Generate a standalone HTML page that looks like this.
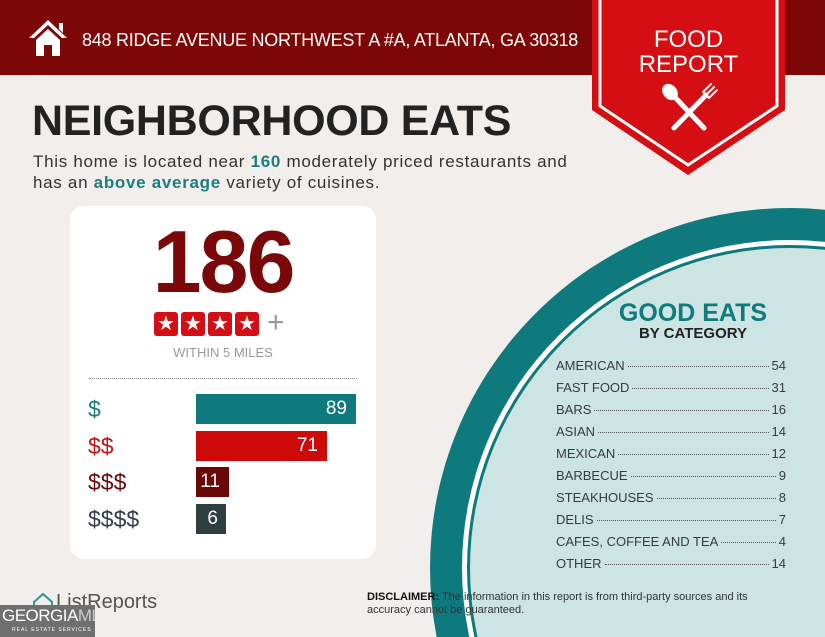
<!DOCTYPE html>
<html><head><meta charset="utf-8"><style>
html,body{margin:0;width:825px;height:637px;overflow:hidden}
body{background:#f1eeeb;font-family:"Liberation Sans",sans-serif;position:relative}
.a{position:absolute}
.row{position:absolute;left:556px;width:230px;font-size:13px;color:#3a3a3a;display:flex;align-items:baseline}
.row .d{flex:1;border-bottom:1px dotted #555;margin:0 3px;height:1px;transform:translateY(-3px)}
.bar{position:absolute;left:196px;height:30px;color:#fff;font-size:19px;text-align:right;line-height:30px;box-sizing:border-box;padding-right:9px}
.lab{position:absolute;left:88px;font-size:23px;line-height:30px}
</style></head><body>
<div class="a" style="left:0;top:0;width:825px;height:75px;background:#7d0707"></div>
<svg class="a" style="left:28px;top:18px" width="40" height="40" viewBox="0 0 40 40"><path d="M20 2 L1 20 L6 20 L20 7 L34 20 L39 20 Z M31 5 h4 v10 l-4 -4Z M8 22 L20 11 L32 22 V38 H24 V27 H16 V38 H8 Z" fill="#fff"/></svg>
<div class="a" style="left:82px;top:30px;color:#fff;font-size:18px;letter-spacing:-0.25px">848 RIDGE AVENUE NORTHWEST A #A, ATLANTA, GA 30318</div>
<svg class="a" style="left:0;top:0" width="825" height="637">
<circle cx="790" cy="568" r="360" fill="#0f7a7d"/>
<circle cx="790" cy="568" r="328" fill="#fff"/>
<circle cx="790" cy="568" r="323" fill="#0f7a7d"/>
<circle cx="790" cy="568" r="320" fill="#cce4e2"/>
<path d="M592 0 H785 V110 L688 175 L592 110 Z" fill="#d40e12"/>
<path d="M600 0 V106 L688 165 L777 106 V0" fill="none" stroke="#fff" stroke-width="3"/>
<g stroke="#fff" stroke-linecap="round" fill="#fff">
<line x1="670" y1="92" x2="704" y2="128" stroke-width="5"/>
<ellipse cx="670" cy="92" rx="7" ry="9" transform="rotate(-40 670 92)" stroke="none"/>
<line x1="706" y1="95" x2="674" y2="128" stroke-width="5"/>
<path d="M703 92 L711 84 M706 95 L714 87 M709 98 L717 90 M703 92 L709 98" stroke-width="2" fill="none"/>
</g>
</svg>
<div class="a" style="left:592px;top:27px;width:193px;text-align:center;color:#fff;font-size:24px;line-height:25px">FOOD</div>
<div class="a" style="left:592px;top:52px;width:193px;text-align:center;color:#fff;font-size:24px;line-height:25px">REPORT</div>
<div class="a" style="left:32px;top:97px;font-size:43px;font-weight:bold;color:#222;letter-spacing:-0.3px">NEIGHBORHOOD EATS</div>
<div class="a" style="left:33px;top:151px;font-size:17px;line-height:21px;color:#333;letter-spacing:0.7px">This home is located near <b style="color:#1a7e80">160</b> moderately priced restaurants and<br>has an <b style="color:#1a7e80">above average</b> variety of cuisines.</div>
<div class="a" style="left:70px;top:206px;width:306px;height:353px;background:#fff;border-radius:14px"></div>
<div class="a" style="left:70px;top:217px;width:306px;text-align:center;font-size:88px;font-weight:bold;color:#7a0808;letter-spacing:-2px;line-height:90px">186</div>
<div class="a" style="left:154px;top:312px;display:flex;gap:3px">
<div style="width:24px;height:24px;background:#d20f14;border-radius:3px;color:#fff;font-size:20px;line-height:24px;text-align:center">★</div>
<div style="width:24px;height:24px;background:#d20f14;border-radius:3px;color:#fff;font-size:20px;line-height:24px;text-align:center">★</div>
<div style="width:24px;height:24px;background:#d20f14;border-radius:3px;color:#fff;font-size:20px;line-height:24px;text-align:center">★</div>
<div style="width:24px;height:24px;background:#d20f14;border-radius:3px;color:#fff;font-size:20px;line-height:24px;text-align:center">★</div>
</div>
<div class="a" style="left:267px;top:306px;font-size:30px;color:#999">+</div>
<div class="a" style="left:70px;top:345px;width:306px;text-align:center;font-size:13px;color:#999">WITHIN 5 MILES</div>
<div class="a" style="left:89px;top:378px;width:268px;border-top:1px dotted #888"></div>
<div class="lab" style="top:394px;color:#1a7e80">$</div>
<div class="lab" style="top:431px;color:#c41016">$$</div>
<div class="lab" style="top:467px;color:#6b0707">$$$</div>
<div class="lab" style="top:504px;color:#2f3e40">$$$$</div>
<div class="bar" style="top:394px;width:160px;background:#0f7a7d">89</div>
<div class="bar" style="top:431px;width:131px;background:#cc0a0a">71</div>
<div class="bar" style="top:467px;width:33px;background:#6b0707">11</div>
<div class="bar" style="top:504px;width:30px;background:#2f3e40;padding-right:8px">6</div>
<div class="a" style="left:560px;top:300px;width:266px;text-align:center;font-size:25px;font-weight:bold;color:#107a7d;line-height:26px">GOOD EATS</div>
<div class="a" style="left:560px;top:325px;width:266px;text-align:center;font-size:15px;font-weight:bold;color:#222">BY CATEGORY</div>
<div class="row" style="top:358px"><span>AMERICAN</span><span class="d"></span><span>54</span></div>
<div class="row" style="top:380px"><span>FAST FOOD</span><span class="d"></span><span>31</span></div>
<div class="row" style="top:402px"><span>BARS</span><span class="d"></span><span>16</span></div>
<div class="row" style="top:424px"><span>ASIAN</span><span class="d"></span><span>14</span></div>
<div class="row" style="top:446px"><span>MEXICAN</span><span class="d"></span><span>12</span></div>
<div class="row" style="top:468px"><span>BARBECUE</span><span class="d"></span><span>9</span></div>
<div class="row" style="top:490px"><span>STEAKHOUSES</span><span class="d"></span><span>8</span></div>
<div class="row" style="top:512px"><span>DELIS</span><span class="d"></span><span>7</span></div>
<div class="row" style="top:534px"><span>CAFES, COFFEE AND TEA</span><span class="d"></span><span>4</span></div>
<div class="row" style="top:556px"><span>OTHER</span><span class="d"></span><span>14</span></div>
<div class="a" style="left:367px;top:591px;font-size:11px;line-height:13px;color:#333"><b style="color:#111">DISCLAIMER:</b> The information in this report is from third-party sources and its<br>accuracy cannot be guaranteed.</div>
<svg class="a" style="left:32px;top:592px" width="22" height="20"><path d="M2 10 L11 2 L20 10 V18 H2 Z" fill="none" stroke="#2a9a98" stroke-width="2"/></svg>
<div class="a" style="left:56px;top:590px;font-size:20px;line-height:24px;color:#555">ListReports</div>
<div class="a" style="left:0;top:605px;width:95px;height:32px;overflow:hidden;background:#6f6f6f;color:#fff;font-size:17px;line-height:22px;padding-left:2px;box-sizing:border-box;letter-spacing:-0.5px">GEORGIA<span style="color:#ccc">MLS</span><div style="font-size:5px;line-height:6px;letter-spacing:1px;padding-left:10px">REAL ESTATE SERVICES</div></div>
</body></html>
